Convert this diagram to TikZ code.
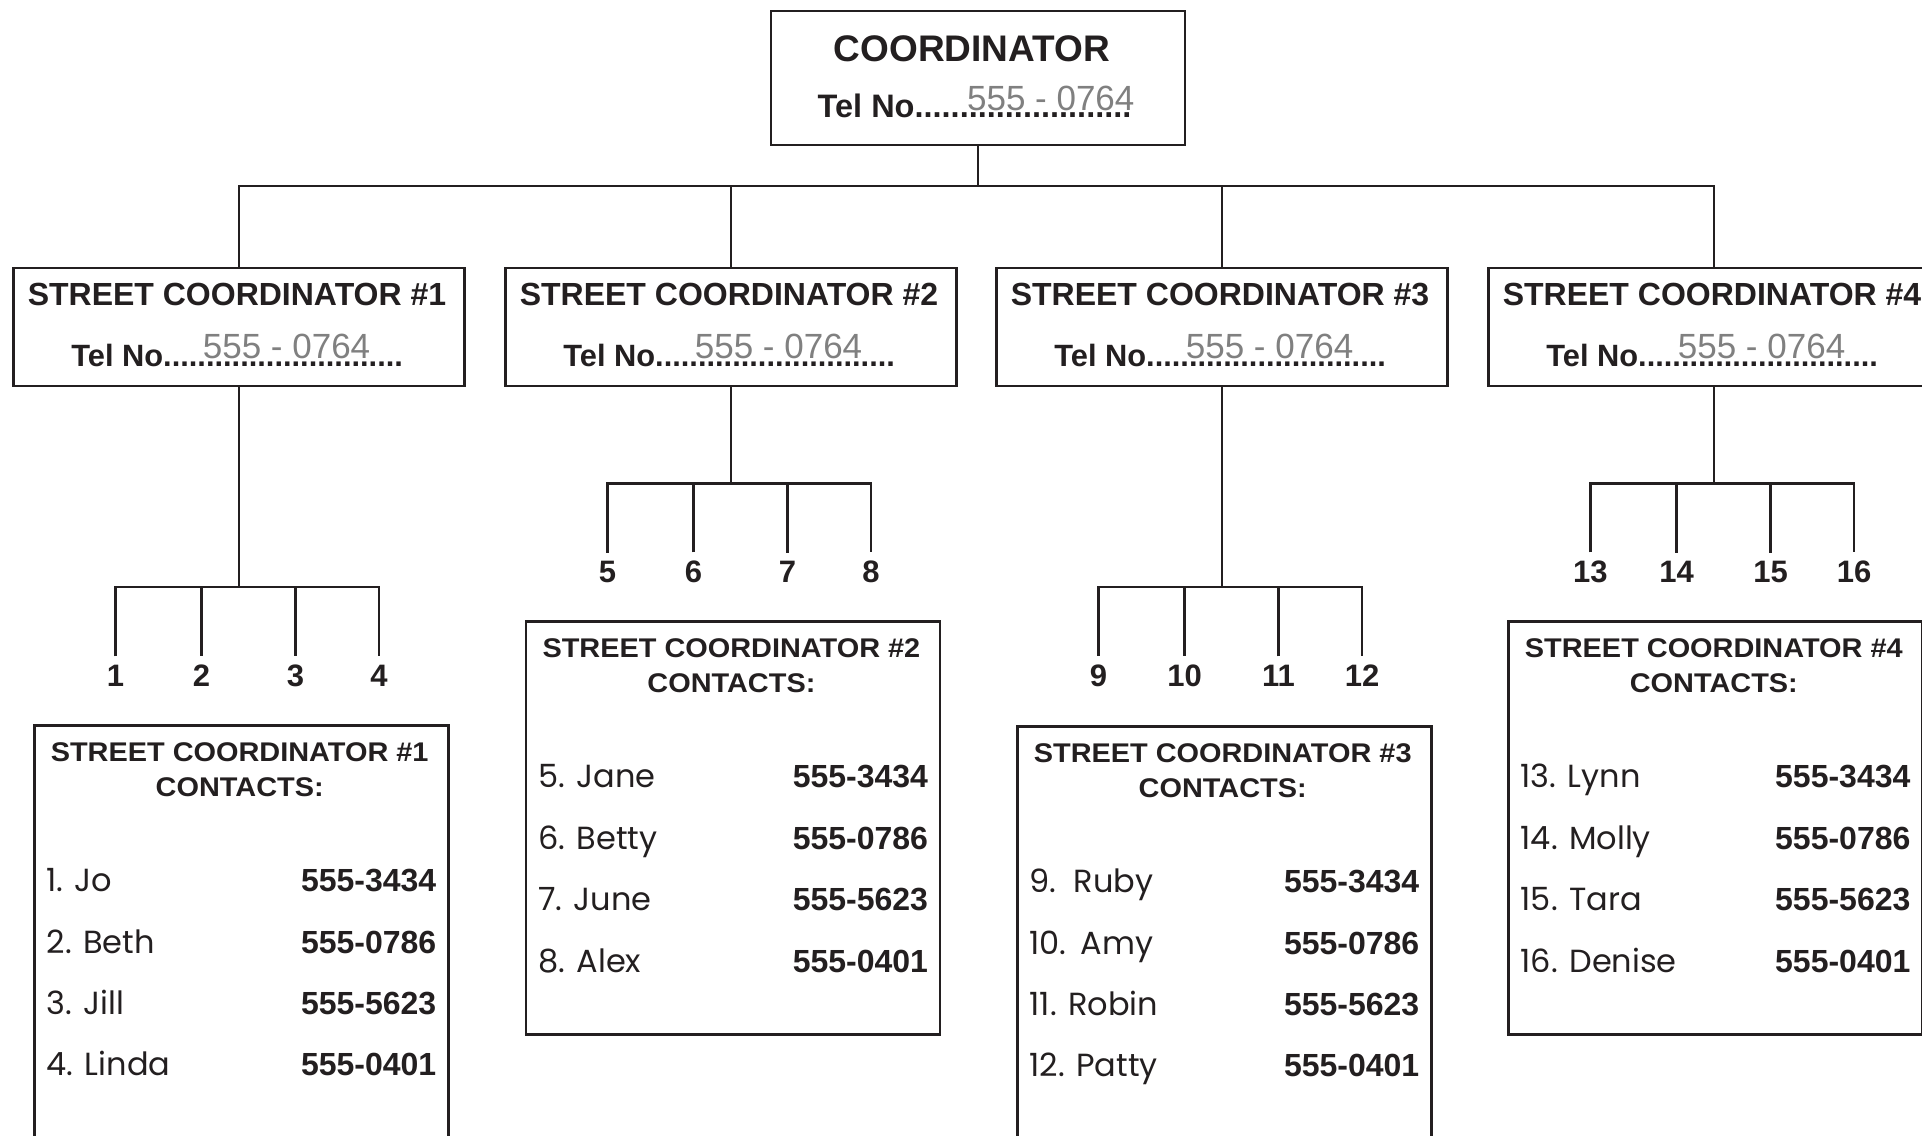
\documentclass[tikz,border=0pt]{standalone}
\usepackage{fontspec}
\setmainfont{Liberation Sans}
\newfontfamily\hand{Poppins}
\usepackage{graphicx}
\definecolor{ink}{RGB}{35,31,32}
\definecolor{telgray}{RGB}{128,128,128}
\newdimen\pxu \pxu=0.5pt
\newcount\dotc
\newcommand\setfs[1]{\fontsize{#1}{#1}\selectfont}
\newcommand\manydots[1]{\dotc=0 \loop\ifnum\dotc<#1 .\advance\dotc by 1 \repeat}
\tikzset{
  box/.style={draw=ink, line width=1.35pt, inner sep=0pt, fill=white},
  conn/.style={draw=ink, line width=1.2pt},
  txt/.style={inner sep=0pt, text=ink},
  telgrey/.style={inner sep=0pt, text=telgray, anchor=base west, font=\setfs{17.5}},
  num/.style={inner sep=4.15pt, text=ink, anchor=base, font=\bfseries\setfs{15.5}},
  nm/.style={inner sep=0pt, text=ink, anchor=base west, font=\hand\setfs{16}},
  ph/.style={inner sep=0pt, text=ink, anchor=base east, font=\bfseries\setfs{16}},
  ctitle/.style={inner sep=0pt, text=ink, anchor=base, font=\bfseries\setfs{13.5}}
}
\begin{document}
\begin{tikzpicture}[x=0.5pt,y=-0.5pt]
\useasboundingbox (0,0) rectangle (1922,1135);
\clip (0,0) rectangle (1922,1135);
\fill[white] (0,0) rectangle (1922,1135);

% top coordinator
\node[box, minimum width=414\pxu, minimum height=134\pxu] (top) at (978,78) {};
\node[txt, anchor=base, font=\bfseries\setfs{18.5}] (topT) at (972,61.7) {COORDINATOR};
\node[txt, anchor=base west, font=\bfseries\setfs{16.25}] (topTel) at (817.3,117.3) {Tel No\manydots{24}};
\node[telgrey] (topPh) at (966.7,110) {555 - 0764};

% street coordinators
\foreach \i/\P in {1/239,2/731,3/1222,4/1714}{
  \node[box, minimum width=451\pxu, minimum height=118\pxu] (sc\i) at (\P,327) {};
  \node[txt, anchor=base, font=\bfseries\setfs{16}] (sct\i) at (\P-2,305) {STREET COORDINATOR \#\i};
  \node[txt, anchor=base west, font=\bfseries\setfs{15.4}] (sctel\i) at (\P-168,366.7) {Tel No\manydots{28}};
  \node[telgrey] (scph\i) at (\P-36.5,358.3) {555 - 0764};
}

\coordinate (bus) at (978,186);
\draw[conn] (top.south) -- (bus);
\draw[conn] (sc1.north) -- (sc1.north |- bus) -- (sc4.north |- bus) -- (sc4.north);
\draw[conn] (sc2.north) -- (sc2.north |- bus);
\draw[conn] (sc3.north) -- (sc3.north |- bus);

% branches to numbered contacts
\foreach \i/\P/\B/\a/\b/\c/\d in {1/239/586.8/1/2/3/4, 2/731/483.3/5/6/7/8, 3/1222/586.8/9/10/11/12, 4/1714/483.3/13/14/15/16}{
  \coordinate (br\i) at (\P,\B);
  \node[num] (n\a) at (\P-123.6,\B+99.5) {\a};
  \node[num] (n\b) at (\P-37.5,\B+99.5) {\b};
  \node[num] (n\c) at (\P+56.5,\B+99.5) {\c};
  \node[num] (n\d) at (\P+140,\B+99.5) {\d};
  \draw[conn] (sc\i.south) -- (br\i);
  \draw[conn] (n\a.north) -- (n\a.north |- br\i) -- (n\d.north |- br\i) -- (n\d.north);
  \draw[conn] (n\b.north) -- (n\b.north |- br\i);
  \draw[conn] (n\c.north) -- (n\c.north |- br\i);
}

% contact boxes
\foreach \i/\P/\T/\H/\na/\nb/\nc/\nd in {
  1/241.2/724/500/{1. Jo}/{2. Beth}/{3. Jill}/{4. Linda},
  2/732.9/620.2/413.2/{5. Jane}/{6. Betty}/{7. June}/{8. Alex},
  3/1224.2/725/500/{9.\ \ Ruby}/{10.\ \,Amy}/{11. Robin}/{12. Patty},
  4/1715.3/620.2/413.2/{13. Lynn}/{14. Molly}/{15. Tara}/{16. Denise}}{
  \node[box, anchor=north, minimum width=414\pxu, minimum height=\H\pxu] (cb\i) at (\P,\T) {};
  \node[ctitle] (cbt\i) at (\P-1.5,\T+37.2) {\scalebox{1.07}[1]{STREET COORDINATOR \#\i}};
  \node[ctitle] (cbc\i) at (\P-1.5,\T+72.7) {\scalebox{1.07}[1]{CONTACTS:}};
  \node[nm] (nma\i) at (\P-195,\T+167.6) {\na};
  \node[nm] (nmb\i) at (\P-195,\T+229) {\nb};
  \node[nm] (nmc\i) at (\P-195,\T+290.4) {\nc};
  \node[nm] (nmd\i) at (\P-195,\T+351.8) {\nd};
  \node[ph] (pha\i) at (\P+195.5,\T+167.6) {555-3434};
  \node[ph] (phb\i) at (\P+195.5,\T+229) {555-0786};
  \node[ph] (phc\i) at (\P+195.5,\T+290.4) {555-5623};
  \node[ph] (phd\i) at (\P+195.5,\T+351.8) {555-0401};
}
\end{tikzpicture}
\end{document}
